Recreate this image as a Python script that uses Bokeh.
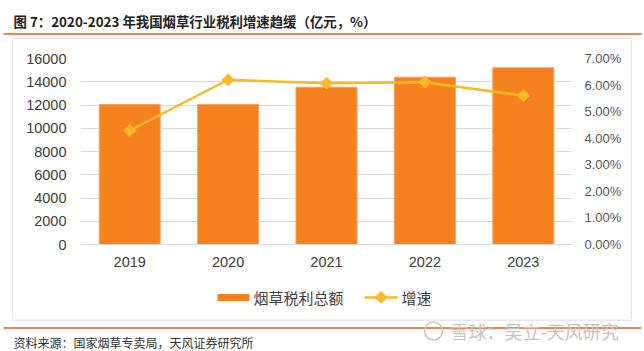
import math
from bokeh.plotting import figure
from bokeh.models import (Range1d, LinearAxis, FixedTicker, NumeralTickFormatter,
                          FactorRange)
from bokeh.layouts import column, row
from bokeh.core.properties import value
from bokeh.embed import file_html
from bokeh.resources import INLINE

years = ["2019", "2020", "2021", "2022", "2023"]
tax_profit = [12040, 12050, 13530, 14390, 15200]
growth = [0.0429, 0.0620, 0.0607, 0.0611, 0.0560]
left_ticks = [0, 2000, 4000, 6000, 8000, 10000, 12000, 14000, 16000]
right_ticks = [0.0, 0.01, 0.02, 0.03, 0.04, 0.05, 0.06, 0.07]

title_text = "图 7：2020-2023 年我国烟草行业税利增速趋缓（亿元，%）"
source_text = "资料来源：国家烟草专卖局，天风证券研究所"
watermark_text = "雪球：吴立-天风研究"
bar_name = "烟草税利总额"
line_name = "增速"

W, H = 644, 351
BAR = "#F5821F"
BAR_EDGE = "#F7A35C"
LINE = "#FBB827"
RULE = "#EE5A1C"
BOX = "#D3D3D3"
CJK = "Noto Sans CJK SC"
LAT = "Liberation Sans"

# canvas geometry
BOX_L, BOX_R, BOX_T, BOX_B = 12, 630, 38, 319
TOP_H = BOX_T + 1                # 0..39
MID_H = BOX_B - TOP_H            # 39..319
BOT_H = H - BOX_B                # 319..351
STRIP_L = BOX_L + 1              # 0..13
STRIP_R = W - BOX_R              # 630..644
INNER_W = W - STRIP_L - STRIP_R  # 13..630
CHART_H = 238                    # 39..277
LEG_H = MID_H - CHART_H          # 277..319
FL, FR, FT, FB = 80, 572, 58, 244  # plot frame in canvas px
BL, BR = FL - STRIP_L, (W - STRIP_R) - FR


def deco(x0, y0, w, h, bl=0, br=0):
    f = figure(width=w, height=h, x_range=Range1d(x0 + bl, x0 + w - br),
               y_range=Range1d(y0 + h, y0), output_backend="svg",
               toolbar_location=None, min_border=0, min_border_left=bl,
               min_border_right=br, x_axis_type=None, y_axis_type=None)
    f.outline_line_color = None
    f.xgrid.visible = False
    f.ygrid.visible = False
    return f


# ---- top: title, rule, top edge of box
top = deco(0, 0, W, TOP_H)
top.text(x=[13], y=[20], text=[title_text], text_font=value(CJK),
         text_font_size="13.4px", text_font_style="bold", text_color="#222222",
         text_baseline="middle", text_align="left")
top.line(x=[3, 641], y=[33.5, 33.5], line_color=RULE, line_width=1.5)
top.line(x=[BOX_L, BOX_R + 1], y=[BOX_T + 0.5, BOX_T + 0.5], line_color=BOX, line_width=1)

# ---- side strips with box edges
left_strip = deco(0, TOP_H, STRIP_L, MID_H)
left_strip.line(x=[BOX_L + 0.5, BOX_L + 0.5], y=[TOP_H, BOX_B], line_color=BOX, line_width=1)
right_strip = deco(BOX_R, TOP_H, STRIP_R, MID_H)
right_strip.line(x=[BOX_R + 0.5, BOX_R + 0.5], y=[TOP_H, BOX_B], line_color=BOX, line_width=1)

# ---- main chart
p = figure(width=INNER_W, height=CHART_H, x_range=FactorRange(*years, range_padding=0),
           y_range=Range1d(0, 16000), output_backend="svg", toolbar_location=None,
           min_border_left=BL, min_border_right=BR,
           min_border_top=FT - TOP_H, min_border_bottom=(TOP_H + CHART_H) - FB)
p.outline_line_color = None
p.extra_y_ranges = {"pct": Range1d(0, 0.07)}

p.vbar(x=years, top=tax_profit, width=0.62, fill_color=BAR,
       line_color=BAR_EDGE, line_width=1)
p.line(x=years, y=growth, y_range_name="pct", line_color=LINE, line_width=2.5)
p.scatter(x=years, y=growth, y_range_name="pct", marker="square", size=8.5,
          angle=math.pi / 4, fill_color=LINE, line_color=LINE)

p.yaxis.ticker = FixedTicker(ticks=left_ticks)
p.yaxis.axis_line_color = None
p.yaxis.major_tick_line_color = None
p.yaxis.minor_tick_line_color = None
p.yaxis.major_tick_out = 0
p.yaxis.minor_tick_out = 0
p.yaxis.major_label_text_font = LAT
p.yaxis.major_label_text_font_size = "14.5px"
p.yaxis.major_label_text_color = "#404040"
p.yaxis.major_label_standoff = 14

ra = LinearAxis(y_range_name="pct", ticker=FixedTicker(ticks=right_ticks),
                formatter=NumeralTickFormatter(format="0.00%"))
ra.axis_line_color = None
ra.major_tick_line_color = None
ra.minor_tick_line_color = None
ra.major_tick_out = 0
ra.minor_tick_out = 0
ra.major_label_text_font = LAT
ra.major_label_text_font_size = "13px"
ra.major_label_text_color = "#595959"
ra.major_label_standoff = 12
p.add_layout(ra, "right")

p.xaxis.axis_line_color = "#D9D9D9"
p.xaxis.major_tick_line_color = None
p.xaxis.minor_tick_line_color = None
p.xaxis.major_tick_out = 0
p.xaxis.minor_tick_out = 0
p.xaxis.major_label_text_font = LAT
p.xaxis.major_label_text_font_size = "14.5px"
p.xaxis.major_label_text_color = "#404040"
p.xaxis.major_label_standoff = 12

p.xgrid.grid_line_color = None
p.ygrid.grid_line_color = "#D9D9D9"
p.ygrid.ticker = FixedTicker(ticks=left_ticks)

# ---- legend strip (frame aligned with the chart frame)
leg = deco(STRIP_L, TOP_H + CHART_H, INNER_W, LEG_H, bl=BL, br=BR)
LEG_Y = 297
leg.quad(left=[217], right=[249], top=[LEG_Y - 3.5], bottom=[LEG_Y + 3.5],
         fill_color=BAR, line_color=None)
leg.text(x=[253], y=[LEG_Y], text=[bar_name], text_font=value(CJK),
         text_font_size="15px", text_color="#404040",
         text_baseline="middle", text_align="left")
leg.line(x=[364, 397], y=[LEG_Y, LEG_Y], line_color=LINE, line_width=2.5)
leg.scatter(x=[380.5], y=[LEG_Y], marker="square", size=8.5, angle=math.pi / 4,
            fill_color=LINE, line_color=LINE)
leg.text(x=[401], y=[LEG_Y], text=[line_name], text_font=value(CJK),
         text_font_size="15px", text_color="#404040",
         text_baseline="middle", text_align="left")

# ---- bottom: box bottom edge, rule, source, watermark
bot = deco(0, BOX_B, W, BOT_H)
bot.line(x=[BOX_L, BOX_R + 1], y=[BOX_B + 0.5, BOX_B + 0.5], line_color=BOX, line_width=1)
bot.line(x=[3, 641], y=[327.5, 327.5], line_color=RULE, line_width=1.5)
bot.text(x=[13], y=[342], text=[source_text], text_font=value(CJK),
         text_font_size="12px", text_color="#333333",
         text_baseline="middle", text_align="left")
bot.circle(x=[433], y=[330.5], radius=9, fill_color=None, line_color="#C8C8C8", line_width=1.5)
bot.text(x=[450], y=[330.5], text=[watermark_text], text_font=value(CJK),
         text_font_size="18px", text_color="#C4C4C4",
         text_baseline="middle", text_align="left")

layout = column(top, row(left_strip, column(p, leg), right_strip), bot)
open("out.html", "w").write(file_html(layout, INLINE))
